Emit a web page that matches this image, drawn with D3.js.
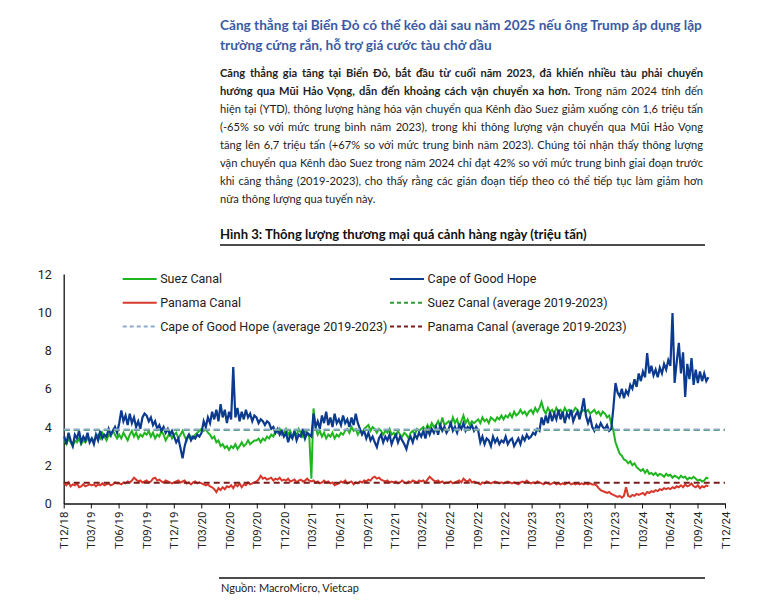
<!DOCTYPE html>
<html><head><meta charset="utf-8">
<script src="https://cdn.jsdelivr.net/npm/d3@7"></script>
<style>
html,body{margin:0;padding:0;background:#fff;}
svg{display:block;font-family:Roboto,"Noto Sans",sans-serif;}
</style></head><body>
<svg id="c" width="777" height="606"></svg>
<script>
// ---------- DATA ----------
const tickLabels = ["T12/18","T03/19","T06/19","T09/19","T12/19","T03/20","T06/20","T09/20","T12/20","T03/21","T06/21","T09/21","T12/21","T03/22","T06/22","T09/22","T12/22","T03/23","T06/23","T09/23","T12/23","T03/24","T06/24","T09/24","T12/24"];
const yTicks = [0,2,4,6,8,10,12];
const startDate = "2018-12-03"; // weekly observations
const suez = [
3.3,3.1,3.4,3.2,3.0,3.3,3.2,3.4,3.1,3.3,3.2,3.4,3.3,
3.4,3.3,3.5,3.6,3.4,3.7,3.5,3.3,3.6,3.5,3.8,3.6,3.4,
3.6,3.4,3.7,3.5,3.3,3.6,3.8,3.5,3.7,3.4,3.6,3.5,3.7,
3.6,3.8,3.5,3.7,3.4,3.6,3.5,3.8,3.6,3.3,3.5,3.7,3.4,
3.6,3.7,3.4,3.6,3.8,3.5,3.3,3.6,3.5,3.4,3.6,3.7,3.8,
3.9,3.8,3.9,3.7,3.6,3.4,3.5,3.2,3.3,3.0,3.1,2.9,3.0,
2.8,3.0,2.9,3.1,2.85,3.0,3.2,3.0,3.1,3.3,3.1,3.2,3.3,
3.3,3.4,3.2,3.4,3.3,3.5,3.4,3.6,3.5,3.8,3.7,3.9,3.6,
3.7,3.9,3.6,3.8,3.5,3.7,3.6,3.9,3.7,3.5,3.8,3.6,3.5,
1.3,4.97,4.0,3.6,3.8,3.5,3.7,3.4,3.6,3.5,3.7,3.4,3.6,
3.5,3.7,3.6,3.8,3.9,3.7,4.0,3.8,3.9,3.6,3.8,3.7,3.9,
4.0,4.1,3.8,4.0,3.9,3.7,3.9,3.8,3.6,3.8,3.7,3.9,3.6,
3.7,3.5,3.8,3.6,3.5,3.7,3.6,3.4,3.7,3.8,3.6,3.9,3.8,
3.9,4.0,3.8,4.1,3.9,4.2,4.0,4.1,4.3,4.0,4.5,4.1,4.2,
4.3,4.1,4.5,4.2,4.4,4.0,4.3,4.6,4.2,4.4,4.1,4.3,4.2,
4.3,4.4,4.2,4.5,4.3,4.4,4.2,4.5,4.4,4.3,4.5,4.4,4.6,
4.4,4.6,4.5,4.7,4.5,4.8,4.6,4.7,4.9,4.7,4.8,4.6,4.8,
4.9,4.7,5.0,4.8,5.0,5.3,4.9,4.7,5.0,4.8,4.9,4.7,5.0,
4.8,4.9,4.7,5.0,4.8,4.9,4.7,4.8,5.0,4.9,4.7,4.8,4.9,
4.8,4.9,4.7,4.8,4.9,4.7,4.8,4.6,4.8,4.7,4.5,4.6,4.2,
3.8,3.2,2.9,2.6,2.5,2.3,2.25,2.1,2.2,2.0,2.1,1.9,1.8,
1.7,1.8,1.6,1.75,1.55,1.6,1.5,1.6,1.45,1.55,1.5,1.4,1.55,
1.45,1.5,1.35,1.45,1.4,1.3,1.45,1.35,1.4,1.25,1.35,1.3,1.4,
1.3,1.2,1.25,1.15,1.2,1.35,1.3];
const cape = [
3.5,3.1,3.7,3.3,3.0,3.6,3.4,3.8,3.2,3.5,3.3,3.7,3.2,
3.4,3.1,3.6,3.3,3.8,3.4,3.6,3.5,3.9,3.6,3.8,4.0,3.7,
4.2,4.87,4.3,4.6,4.1,4.7,4.2,4.5,4.0,4.3,3.9,4.5,4.7,
4.6,4.3,4.5,4.1,4.3,3.9,4.1,3.8,4.0,3.7,3.9,3.6,3.8,
3.5,3.2,3.4,2.9,2.36,3.0,3.4,3.6,3.3,3.5,3.4,3.6,3.5,
3.7,4.3,4.0,4.5,4.2,4.8,4.4,4.9,4.3,5.2,4.5,4.9,4.2,
4.8,4.4,7.14,4.5,5.0,4.3,4.8,4.4,4.9,4.5,4.7,4.3,4.6,
4.5,4.2,4.4,4.3,4.1,4.3,4.2,3.9,4.0,3.7,3.9,3.6,3.8,
3.5,3.7,3.2,3.6,3.4,3.8,3.3,3.6,3.5,3.9,3.4,3.7,3.6,
3.5,4.7,4.0,4.3,3.9,4.6,4.2,4.8,4.1,4.5,4.0,4.7,4.2,
4.4,4.1,4.6,4.2,4.4,4.0,4.5,4.1,4.7,4.2,3.9,3.6,3.8,
3.4,3.7,3.3,3.5,3.2,2.95,3.4,3.6,3.2,3.5,3.3,3.6,3.1,
3.4,3.6,3.2,3.5,3.3,3.1,2.85,3.3,3.5,3.2,3.6,3.4,3.7,
3.5,3.8,3.4,3.9,3.6,3.9,3.7,4.0,3.6,4.1,3.8,4.0,3.7,
3.9,4.2,3.8,4.0,3.7,4.1,3.9,4.2,3.8,4.0,3.9,4.1,3.8,
4.0,3.8,3.2,3.5,3.1,3.4,3.3,3.0,3.5,3.2,3.4,3.1,3.3,
3.2,3.5,3.1,3.3,3.4,3.0,3.2,3.4,3.1,3.5,3.3,3.6,3.4,
3.5,3.7,3.6,3.9,3.8,4.5,4.1,4.6,4.2,4.8,4.3,4.7,4.4,
4.9,4.4,4.8,4.2,4.7,4.5,4.9,4.3,4.6,4.8,4.4,4.9,5.5,
4.6,4.2,4.5,4.0,3.8,4.1,3.9,4.2,4.0,3.9,4.1,3.8,3.9,
5.0,6.3,5.8,5.6,6.0,5.5,5.9,5.7,6.2,6.0,6.5,6.1,6.8,
6.4,6.9,6.6,7.86,6.8,7.2,6.7,7.0,6.6,7.1,6.8,7.3,7.0,
7.5,7.2,9.96,6.3,7.4,8.4,6.8,7.9,5.57,7.3,6.5,7.6,6.2,
7.0,6.3,6.9,6.4,6.8,6.4,6.6];
const panama = [
1.05,0.95,1.1,0.9,1.0,0.95,1.05,0.85,0.9,1.0,0.9,0.95,1.0,
0.95,1.0,0.9,1.0,0.95,1.05,0.95,1.0,1.05,0.95,1.0,1.1,1.05,
1.05,1.0,1.1,1.05,1.15,1.1,1.2,1.35,1.25,1.15,1.2,1.1,1.15,
1.2,1.1,1.15,1.3,1.35,1.2,1.25,1.15,1.1,1.2,1.15,1.1,1.05,
1.1,1.15,1.2,1.1,1.15,1.2,1.05,1.1,1.0,1.1,1.15,1.05,1.1,
1.05,1.0,0.95,1.0,0.9,0.85,0.75,0.6,0.8,0.7,0.85,0.75,0.9,
0.85,0.95,0.8,1.0,0.9,1.05,0.85,1.0,0.95,1.1,1.0,1.05,1.1,
1.15,1.25,1.45,1.3,1.35,1.25,1.3,1.35,1.2,1.3,1.25,1.35,1.2,
1.25,1.2,1.3,1.15,1.2,1.25,1.1,1.2,1.25,1.15,1.2,1.3,1.2,
1.15,1.2,1.1,1.15,1.05,1.1,1.2,1.1,1.15,1.05,1.1,0.95,1.0,
1.05,1.15,1.1,1.2,1.05,1.1,1.15,1.0,1.1,1.05,1.15,1.1,1.2,
1.15,1.25,1.2,1.35,1.4,1.3,1.35,1.25,1.2,1.15,1.2,1.1,1.15,
1.1,1.15,1.05,1.1,1.2,1.1,1.05,1.15,1.1,1.2,1.15,1.1,1.2,
1.15,1.2,1.1,1.25,1.4,1.3,1.2,1.15,1.2,1.1,1.15,1.05,1.1,
1.1,1.15,1.05,1.1,1.15,1.2,1.1,1.3,1.2,1.15,1.25,1.1,1.15,
1.1,1.05,1.0,1.1,1.05,1.15,1.1,1.05,1.1,1.15,1.1,1.05,1.1,
1.05,1.1,1.15,1.1,1.05,1.1,1.05,1.0,1.1,1.15,1.1,1.2,1.1,
1.05,1.1,1.05,1.15,1.1,1.05,1.0,1.1,1.05,1.0,1.05,1.1,1.0,
1.05,1.0,1.05,1.0,1.05,1.1,1.0,1.05,1.0,1.05,1.0,1.05,1.0,
1.05,1.0,1.05,1.0,1.0,0.95,0.8,0.7,0.65,0.6,0.55,0.6,0.5,
0.45,0.4,0.35,0.4,0.3,0.4,0.85,0.4,0.35,0.45,0.4,0.5,0.45,
0.5,0.55,0.45,0.6,0.55,0.65,0.6,0.7,0.65,0.75,0.7,0.8,0.75,
0.8,0.75,0.85,0.8,0.9,0.85,0.95,0.85,1.0,0.9,0.95,1.05,0.9,
0.85,0.95,0.8,0.9,0.85,0.95,0.9];
const suezAvg = 3.84;
const capeAvg = 3.87;
const panamaAvg = 1.08;
const legendLabels = ["Suez Canal","Cape of Good Hope","Panama Canal","Suez Canal (average 2019-2023)","Cape of Good Hope (average 2019-2023)","Panama Canal (average 2019-2023)"];

// ---------- TEXT ----------
const titleLines = ["Căng thẳng tại Biển Đỏ có thể kéo dài sau năm 2025 nếu ông Trump áp dụng lập","trường cứng rắn, hỗ trợ giá cước tàu chở dầu"];
const paraLines = [
 [[1,"Căng thẳng gia tăng tại Biển Đỏ, bắt đầu từ cuối năm 2023, đã khiến nhiều tàu phải chuyển"]],
 [[1,"hướng qua Mũi Hảo Vọng, dẫn đến khoảng cách vận chuyển xa hơn."],[0," Trong năm 2024 tính đến"]],
 [[0,"hiện tại (YTD), thông lượng hàng hóa vận chuyển qua Kênh đào Suez giảm xuống còn 1,6 triệu tấn"]],
 [[0,"(-65% so với mức trung bình năm 2023), trong khi thông lượng vận chuyển qua Mũi Hảo Vọng"]],
 [[0,"tăng lên 6,7 triệu tấn (+67% so với mức trung bình năm 2023). Chúng tôi nhận thấy thông lượng"]],
 [[0,"vận chuyển qua Kênh đào Suez trong năm 2024 chỉ đạt 42% so với mức trung bình giai đoạn trước"]],
 [[0,"khi căng thẳng (2019-2023), cho thấy rằng các gián đoạn tiếp theo có thể tiếp tục làm giảm hơn"]],
 [[0,"nữa thông lượng qua tuyến này."]]
];
const captionText = "Hình 3: Thông lượng thương mại quá cảnh hàng ngày (triệu tấn)";
const sourceText = "Nguồn: MacroMicro, Vietcap";

// ---------- DRAW ----------
const svg = d3.select("#c");
const L = 220, R = 703;
const textFont = "Lato, Roboto, sans-serif";

function fitWidth(sel, target){
  const w = sel.node().getComputedTextLength();
  const fs = parseFloat(sel.attr("font-size"));
  sel.attr("font-size", (fs*target/w).toFixed(2));
}

const t1 = svg.append("text").attr("x",L).attr("y",30).attr("font-size",14).attr("font-weight",700)
  .attr("font-family",textFont).attr("fill","#3a5ba3").text(titleLines[0]);
fitWidth(t1, R-L-1);
svg.append("text").attr("x",L).attr("y",50).attr("font-size",t1.attr("font-size")).attr("font-weight",700)
  .attr("font-family",textFont).attr("fill","#3a5ba3").text(titleLines[1]);

// paragraph: pick a size so the widest line fits with normal spacing, then justify
let paraSize = 12.5;
const paraTexts = paraLines.map((segs,i)=>{
  const t = svg.append("text").attr("x",L).attr("y",77+18*i).attr("font-size",paraSize)
    .attr("font-family",textFont).attr("fill","#1e1e1e");
  segs.forEach(s=>t.append("tspan").attr("font-weight",s[0]?700:400).text(s[1]));
  return t;
});
const maxW = d3.max(paraTexts.slice(0,-1), t=>t.node().getComputedTextLength());
if (maxW > (R-L)-4) paraSize = paraSize*((R-L)-4)/maxW;
paraTexts.forEach((t,i)=>{
  t.attr("font-size",paraSize.toFixed(2));
  if(i<paraTexts.length-1){
    const w = t.node().getComputedTextLength();
    const n = (t.text().match(/ /g)||[]).length;
    t.attr("word-spacing",((R-L)-w)/n);
  }
});

const cap = svg.append("text").attr("x",L).attr("y",239).attr("font-size",12.5).attr("font-weight",700)
  .attr("font-family",textFont).attr("fill","#111").text(captionText);
fitWidth(cap, 367);
svg.append("line").attr("x1",L).attr("x2",705).attr("y1",245).attr("y2",245).attr("stroke","#111").attr("stroke-width",1.3);
svg.append("line").attr("x1",219).attr("x2",705).attr("y1",578).attr("y2",578).attr("stroke","#111").attr("stroke-width",1.3);
const src = svg.append("text").attr("x",221).attr("y",592).attr("font-size",11).attr("font-family",textFont)
  .attr("fill","#222").text(sourceText);
fitWidth(src, 138);

// scales
const t0 = d3.timeParse("%Y-%m-%d")(startDate);
const dates = suez.map((_,i)=>d3.timeDay.offset(t0,7*i));
const tickDates = tickLabels.map(s=>new Date(2000 + +s.slice(4), +s.slice(1,3)-1, 1));
const x = d3.scaleTime().domain([tickDates[0], tickDates[tickDates.length-1]]).range([63.7,725]);
const y = d3.scaleLinear().domain([0,12]).range([503.5,274]);

// axes
const gx = svg.append("g").attr("transform","translate(0,503.5)")
  .call(d3.axisBottom(x).tickValues(tickDates).tickFormat((d,i)=>tickLabels[i]).tickSize(5).tickSizeOuter(0));
gx.select(".domain").attr("stroke","#111").attr("stroke-width",1.3);
gx.selectAll(".tick line").attr("stroke","#111");
gx.selectAll(".tick text").attr("font-size",11.5).attr("fill","#222").attr("font-family","Roboto")
  .attr("transform","rotate(-90)").attr("text-anchor","end").attr("x",-8).attr("y",0).attr("dy","0.36em");

const gy = svg.append("g").attr("transform","translate(63.7,0)")
  .call(d3.axisLeft(y).tickValues(yTicks).tickSize(0).tickSizeOuter(0).tickPadding(12));
gy.select(".domain").attr("stroke","#111").attr("stroke-width",1.3);
gy.selectAll(".tick text").attr("font-size",12.5).attr("fill","#222").attr("font-family","Roboto");

// lines
const line = d3.line().x((d,i)=>x(dates[i])).y(d=>y(d));
const colors = {suez:"#1fb51f", cape:"#0b3a8e", panama:"#d8382c", suezAvg:"#2f9a36", capeAvg:"#8faacb", panamaAvg:"#7a1d1d"};
svg.append("path").datum(suez).attr("d",line).attr("fill","none").attr("stroke",colors.suez).attr("stroke-width",2);
svg.append("path").datum(cape).attr("d",line).attr("fill","none").attr("stroke",colors.cape).attr("stroke-width",2.2);
svg.append("path").datum(panama).attr("d",line).attr("fill","none").attr("stroke",colors.panama).attr("stroke-width",2);

const avgs = [[suezAvg,colors.suezAvg],[capeAvg,colors.capeAvg],[panamaAvg,colors.panamaAvg]];
avgs.forEach(a=>{
  svg.append("line").attr("x1",x(tickDates[0])).attr("x2",x(tickDates[tickDates.length-1]))
    .attr("y1",y(a[0])).attr("y2",y(a[0])).attr("stroke",a[1]).attr("stroke-width",2).attr("stroke-dasharray","6,4");
});

// legend
const legColors = [colors.suez,colors.cape,colors.panama,colors.suezAvg,colors.capeAvg,colors.panamaAvg];
const legDash = [null,null,null,"4,3","4,3","4,3"];
legendLabels.forEach((lab,i)=>{
  const col = i%2, row = Math.floor(i/2);
  const lx = col===0?122.7:390, ly = 279+23.8*row;
  svg.append("line").attr("x1",lx).attr("x2",lx+34).attr("y1",ly).attr("y2",ly)
    .attr("stroke",legColors[i]).attr("stroke-width",2).attr("stroke-dasharray",legDash[i]);
  svg.append("text").attr("x",lx+37.5).attr("y",ly).attr("dy","0.35em").attr("font-size",12.5).attr("fill","#222").text(lab);
});
</script>
</body></html>
